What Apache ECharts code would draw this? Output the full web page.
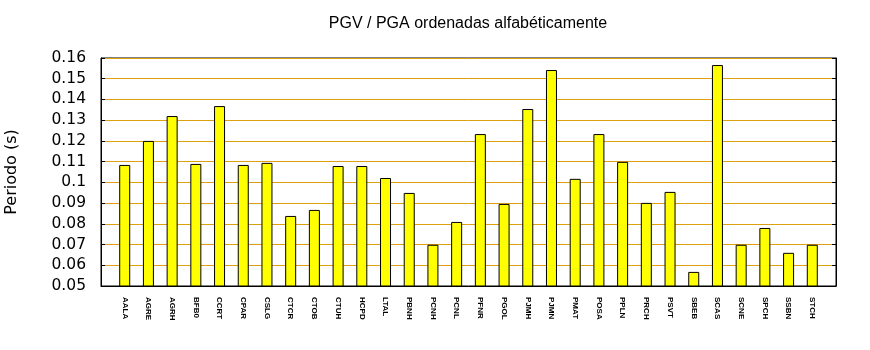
<!DOCTYPE html>
<html>
<head>
<meta charset="utf-8">
<script src="https://cdn.jsdelivr.net/npm/echarts@6/dist/echarts.min.js"></script>
<style>html,body{margin:0;padding:0;background:#fff}#c{width:870px;height:350px}</style>
</head>
<body>
<div id="c"></div>
<script>
const categories = ['AALA','AGRE','AGRH','BFB0','CCRT','CPAR','CSLG','CTCR','CTOB','CTUH','HCPD','LTAL','PBNH','PCNH','PCNL','PFNR','PGOL','PJMH','PJMN','PMAT','POSA','PPLN','PRCH','PSVT','SBEB','SCAS','SCNE','SPCH','SSBN','STCH'];
const periods = [0.1084,0.1200,0.1320,0.1089,0.1368,0.1084,0.1094,0.0838,0.0867,0.1079,0.1079,0.1021,0.0949,0.0699,0.0809,0.1233,0.0896,0.1354,0.1542,0.1017,0.1233,0.1099,0.0901,0.0954,0.0568,0.1566,0.0699,0.0780,0.0660,0.0699];
const yTicks = {min: 0.05, max: 0.16, step: 0.01};
const titleText = 'PGV / PGA ordenadas alfabéticamente';
const yName = 'Periodo (s)';

// one empty slot at each end, as in the reference
const axisCats = [''].concat(categories, ['']);
const axisVals = [null].concat(periods, [null]);

const chart = echarts.init(document.getElementById('c'), null, {renderer: 'canvas'});
const yBase = {
  type: 'value', min: yTicks.min, max: yTicks.max, interval: yTicks.step
};
chart.setOption({
  animation: false,
  backgroundColor: '#fff',
  title: {
    text: titleText, left: 463, top: 11, textAlign: 'center',
    textStyle: {fontFamily: 'Liberation Sans', fontSize: 16, fontWeight: 'normal', color: '#000'}
  },
  grid: {left: 101, right: 34, top: 58, bottom: 64, containLabel: false, outerBoundsMode: 'none',
    show: true, borderColor: '#000', borderWidth: 1, backgroundColor: 'transparent'},
  xAxis: {
    type: 'category', data: axisCats, boundaryGap: false,
    axisLine: {show: true, onZero: false, lineStyle: {color: '#000'}},
    axisTick: {show: false},
    splitLine: {show: false},
    axisLabel: {
      interval: 0, rotate: -90, margin: 11,
      fontFamily: '"Liberation Sans Narrow", "Liberation Sans"', fontWeight: 'bold', fontSize: 8, color: '#000'
    }
  },
  yAxis: [
    Object.assign({}, yBase, {
      name: yName, nameLocation: 'middle', nameGap: 81, nameRotate: 90,
      nameTextStyle: {fontFamily: 'DejaVu Sans', fontSize: 16, color: '#000'},
      axisLine: {show: true, onZero: false, lineStyle: {color: '#000'}},
      axisTick: {show: true, inside: true, length: 4, lineStyle: {color: '#000'}},
      splitLine: {show: true, lineStyle: {color: '#dda010', width: 1}},
      axisLabel: {margin: 15, fontFamily: 'DejaVu Sans', fontSize: 15.5, color: '#000',
        formatter: v => String(+v.toFixed(2))}
    }),
    Object.assign({}, yBase, {
      position: 'right',
      axisLine: {show: true, onZero: false, lineStyle: {color: '#000'}},
      axisTick: {show: true, inside: true, length: 4, lineStyle: {color: '#000'}},
      splitLine: {show: false},
      axisLabel: {show: false}
    })
  ],
  series: [{
    type: 'bar',
    yAxisIndex: 0,
    barWidth: 11,
    clip: true,
    itemStyle: {color: '#ffff00', borderColor: '#000', borderWidth: 1},
    data: axisVals
  }]
});
</script>
</body>
</html>
